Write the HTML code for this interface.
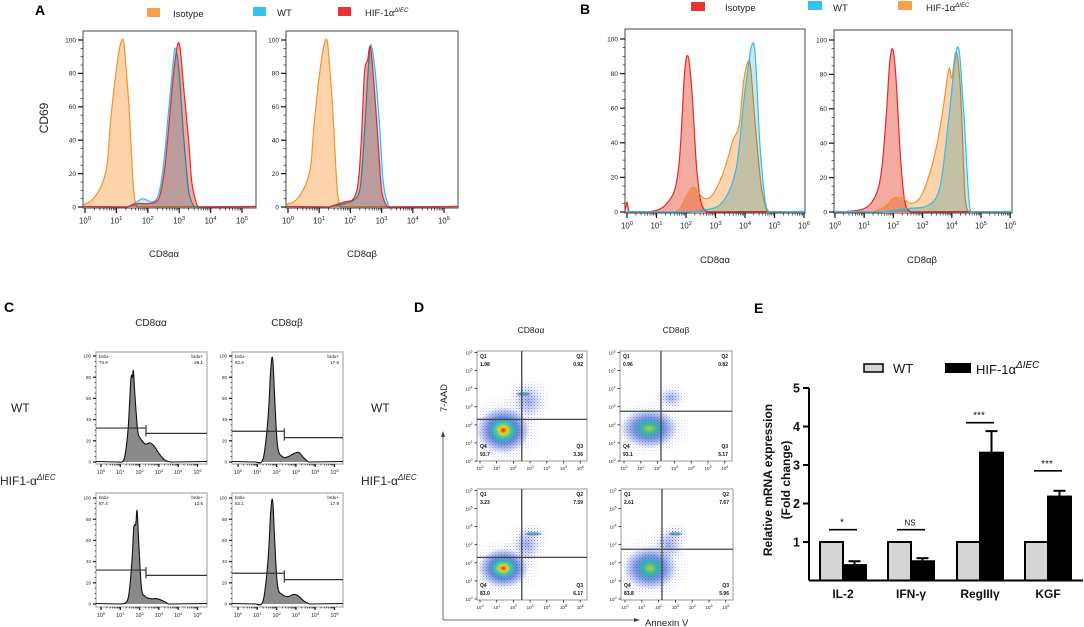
<!DOCTYPE html>
<html><head><meta charset="utf-8">
<style>
html,body{margin:0;padding:0;background:#fff;}
svg{display:block;font-family:"Liberation Sans",Arial,sans-serif;}
</style></head>
<body>
<svg id="fig" width="1084" height="627" viewBox="0 0 1084 627" xmlns="http://www.w3.org/2000/svg">
<defs>
<radialGradient id="gHot"><stop offset="0" stop-color="#e8201a"/><stop offset="0.15" stop-color="#f0d020"/><stop offset="0.32" stop-color="#30c8b0"/><stop offset="0.55" stop-color="#2a5fd0" stop-opacity="0.7"/><stop offset="1" stop-color="#3a48c8" stop-opacity="0"/></radialGradient>
<radialGradient id="gWarm"><stop offset="0" stop-color="#b8d030"/><stop offset="0.25" stop-color="#30b8a8"/><stop offset="0.55" stop-color="#2a58d0" stop-opacity="0.6"/><stop offset="1" stop-color="#3a48c8" stop-opacity="0"/></radialGradient>
<radialGradient id="gCool"><stop offset="0" stop-color="#3a5ad0" stop-opacity="0.45"/><stop offset="1" stop-color="#5a68d0" stop-opacity="0"/></radialGradient>
<pattern id="dots" width="3" height="3" patternUnits="userSpaceOnUse"><rect x="0" y="0" width="1" height="1" fill="#3048c0"/><rect x="1.6" y="1.7" width="0.8" height="0.8" fill="#5060c8"/></pattern>
<radialGradient id="gMask"><stop offset="0" stop-color="#fff" stop-opacity="0.9"/><stop offset="1" stop-color="#fff" stop-opacity="0"/></radialGradient>
</defs>
</svg>
<script>
// ===== Panel A data (x = log10 decade, y = % of max) =====
const A1_iso_x=[0,0.15,0.35,0.55,0.7,0.81,0.95,1.1,1.22,1.3,1.4,1.47,1.55,1.63,1.75];
const A1_iso_y=[2,3,7,14,25,50,75,95,100,85,60,35,10,1,0];
const A1_wt_x=[1.35,1.65,1.85,2.15,2.35,2.5,2.65,2.8,2.88,3.0,3.15,3.3,3.45,3.55];
const A1_wt_y=[0,3,5,3,8,25,55,85,95,80,40,10,1,0];
const A1_ko_x=[1.35,1.65,1.95,2.25,2.4,2.55,2.7,2.85,3.0,3.15,3.3,3.4,3.55,3.65];
const A1_ko_y=[0,2,2,3,8,25,55,85,98,70,40,15,2,0];
const A2_iso_x=[0,0.18,0.38,0.58,0.73,0.84,0.98,1.13,1.25,1.33,1.43,1.5,1.58,1.66,1.78];
const A2_iso_y=[2,3,7,14,25,50,75,95,100,85,60,35,10,1,0];
const A2_wt_x=[1.3,1.8,2.1,2.3,2.4,2.5,2.58,2.66,2.8,2.95,3.05,3.2,3.3];
const A2_wt_y=[0,2,4,10,30,60,85,97,80,45,15,2,0];
const A2_ko_x=[1.3,1.8,2.1,2.25,2.35,2.45,2.55,2.64,2.75,2.9,3.0,3.15,3.25];
const A2_ko_y=[0,3,5,15,40,80,88,96,75,35,10,1,0];
// ===== Panel B data =====
const B1_iso_x=[0,0.05,0.15,1.0,1.4,1.65,1.8,1.95,2.07,2.2,2.35,2.5,2.7];
const B1_iso_y=[6,2,0,1,6,15,35,80,90,70,28,6,0];
const B1_wt_x=[2.0,2.5,3.2,3.7,4.0,4.3,4.5,4.7,4.9];
const B1_wt_y=[0,1,5,25,70,97,40,5,0];
const B1_ko_x=[1.6,1.8,2.1,2.3,2.6,2.9,3.2,3.4,3.6,3.8,3.95,4.1,4.2,4.35,4.55,4.75];
const B1_ko_y=[0,2,12,14,8,10,20,30,42,50,75,87,82,50,15,0];
const B2_iso_x=[0.2,1.0,1.4,1.6,1.75,1.88,1.99,2.1,2.25,2.4,2.6];
const B2_iso_y=[0,2,10,25,55,88,94,75,30,5,0];
const B2_wt_x=[1.5,2.5,3.2,3.6,3.9,4.2,4.4,4.6,4.8];
const B2_wt_y=[0,2,4,15,55,96,60,5,0];
const B2_ko_x=[1.3,1.7,2.0,2.3,2.6,2.9,3.2,3.5,3.7,3.9,4.0,4.15,4.3,4.45,4.6];
const B2_ko_y=[0,3,8,8,5,8,20,40,60,83,78,93,70,10,0];
// ===== Panel C data =====
const C1_x=[0.9,1.2,1.4,1.55,1.63,1.68,1.75,1.9,2.05,2.3,2.55,2.8,3.0,3.3,3.6];
const C1_y=[0,3,30,78,80,86,65,30,22,17,18,14,8,2,0];
const C2_x=[0.9,1.3,1.55,1.7,1.8,1.9,2.05,2.3,2.6,2.9,3.15,3.4,3.65];
const C2_y=[0,3,40,88,97,60,15,5,5,8,9,4,0];
const C3_x=[1.0,1.4,1.6,1.7,1.8,1.87,1.95,2.1,2.3,2.6,2.9,3.2,3.5];
const C3_y=[0,5,40,72,75,88,60,15,7,5,5,3,0];
const C4_x=[0.9,1.3,1.55,1.7,1.8,1.9,2.05,2.3,2.6,2.85,3.1,3.4,3.7];
const C4_y=[0,3,40,88,97,60,17,9,7,9,8,3,0];
const C_gateL=[32,29,32,29]; const C_gateR=[27,23,27,23]; const C_gateX=[2.33,2.4,2.33,2.4];
const C_neg=["74.9","82.4","87.4","82.1"]; const C_pos=["25.1","17.6","12.6","17.9"];
// ===== Panel D data (cluster centers in log units) =====
const D_cx=[[1.4,2.9,2.6],[1.5,2.8],[1.4,2.8,3.2],[1.5,2.6,3.0]];
const D_cy=[[1.7,3.3,3.7],[1.8,3.5],[1.7,3.0,3.6],[1.7,3.0,3.6]];
const D_rx=[[1.6,0.9,0.5],[1.7,0.7],[1.5,0.8,0.6],[1.6,0.8,0.5]];
const D_ry=[[1.3,0.9,0.12],[1.1,0.5],[1.1,0.9,0.12],[1.2,0.8,0.12]];
const D_kind=[["gHot","gCool","gWarm"],["gWarm","gCool"],["gHot","gCool","gWarm"],["gWarm","gCool","gWarm"]];
const D_q=[["1.98","0.92","93.7","3.36"],["0.96","0.82","93.1","5.17"],["3.23","7.59","83.0","6.17"],["2.61","7.67","83.8","5.96"]];
const D_vx=[2.5,2.2,2.5,2.2]; const D_hy=[2.3,2.75,2.3,2.75];
// ===== Panel E data =====
const E_cats=["IL-2","IFN-γ","RegIIIγ","KGF"];
const E_wt=[1,1,1,1];
const E_ko=[0.4,0.5,3.32,2.18];
const E_koErr=[0.1,0.08,0.56,0.15];
const E_sig=["*","NS","***","***"];
const E_sigY=[1.32,1.32,4.1,2.85];
const E_ticks=[1,2,3,4,5];

const NS='http://www.w3.org/2000/svg';
const svg=document.getElementById('fig');
function mk(tag,attrs,name,parent){
  const e=document.createElementNS(NS,tag);
  for(const k in attrs) e.setAttribute(k,attrs[k]);
  
  
  (parent||svg).appendChild(e); return e;
}
function txt(x,y,s,size,name,extra,parent){
  const a=Object.assign({x:x,y:y,'font-size':size,fill:'#111'},extra||{});
  const t=mk('text',a,name,parent); t.textContent=s; return t;
}
function pow10(x,y,n,size,name){
  const t=txt(x,y,'10',size,name,{'text-anchor':'middle',fill:'#222'});
  const s=document.createElementNS(NS,'tspan');
  s.setAttribute('dy',-size*0.45); s.setAttribute('font-size',size*0.75); s.textContent=n;
  t.appendChild(s);
}
function smoothPath(pts){
  let d='';
  for(let i=0;i<pts.length-1;i++){
    const p0=pts[Math.max(0,i-1)],p1=pts[i],p2=pts[i+1],p3=pts[Math.min(pts.length-1,i+2)];
    const c1=[p1[0]+(p2[0]-p0[0])/6,p1[1]+(p2[1]-p0[1])/6], c2=[p2[0]-(p3[0]-p1[0])/6,p2[1]-(p3[1]-p1[1])/6];
    d+=' C'+c1[0].toFixed(1)+','+c1[1].toFixed(1)+' '+c2[0].toFixed(1)+','+c2[1].toFixed(1)+' '+p2[0].toFixed(1)+','+p2[1].toFixed(1);
  }
  return d;
}
// ---------- histogram panels ----------
function histPanel(P){
  const g=mk('g',{},P.name);
  mk('rect',{x:P.box[0],y:P.box[1],width:P.box[2]-P.box[0],height:P.box[3]-P.box[1],fill:'#fff',stroke:P.boxStroke||'#444','stroke-width':P.bw||1},P.name+'-frame',g);
  const xp=v=>P.x0+v*P.dec, yp=v=>P.y0-(P.y0-P.y100)*v/100;
  P.xp=xp; P.yp=yp;
  for(let v=0;v<=100;v+=5){
    const maj=v%20===0;
    mk('line',{x1:P.box[0]-(maj?P.tk:P.tk/2),x2:P.box[0],y1:yp(v),y2:yp(v),stroke:'#222','stroke-width':maj?1.3:0.7},'y-tick',g);
    if(maj) txt(P.box[0]-P.tk-2,yp(v)+P.fs*0.35,String(v),P.fs,'y-tick-label',{'text-anchor':'end',fill:'#222'},g);
  }
  for(let d=0;d<=P.nd;d++){
    mk('line',{x1:xp(d),x2:xp(d),y1:P.box[3],y2:P.box[3]+P.tk,stroke:'#222','stroke-width':1.3},'x-tick',g);
    pow10(xp(d),P.box[3]+P.tk+P.fs*1.6,String(d),P.fs*1.2,'x-tick-label');
    if(d<P.nd) for(let m=2;m<10;m++){const xx=xp(d+Math.log10(m)); if(xx<P.box[2]) mk('line',{x1:xx,x2:xx,y1:P.box[3],y2:P.box[3]+P.tk/2,stroke:'#222','stroke-width':0.7},'x-minor-tick',g);}
  }
  P.curves.forEach(c=>{
    const pts=c.x.map((v,i)=>[xp(v),yp(c.y[i])]);
    const sp=smoothPath(pts);
    const d='M'+pts[0][0]+','+P.y0+' L'+pts[0][0]+','+pts[0][1]+sp+' L'+pts[pts.length-1][0]+','+P.y0+' Z';
    mk('path',{d:d,fill:c.fill,style:'mix-blend-mode:multiply',stroke:'none'},c.name+'-fill',g);
    const l='M'+P.box[0]+','+(P.y0-0.5)+' L'+pts[0][0]+','+pts[0][1]+sp+' L'+P.box[2]+','+(P.y0-0.5);
    mk('path',{d:l,fill:'none',stroke:c.stroke,'stroke-width':P.lw||1.2},c.name+'-line',g);
  });
  return P;
}
const OR={fill:'#fcd3ab',stroke:'#f3922f'}, BL={fill:'#c5e9f7',stroke:'#2dbdf0'}, RD={fill:'#f3aaa0',stroke:'#e8282d'};
histPanel({name:'panel-a-cd8aa',box:[83,31,256,208],x0:85,dec:31.4,nd:5,y0:207,y100:40,tk:5,fs:6.5,curves:[
 {x:A1_iso_x,y:A1_iso_y,...OR,name:'isotype'},{x:A1_wt_x,y:A1_wt_y,...BL,name:'wt'},{x:A1_ko_x,y:A1_ko_y,...RD,name:'hif'}]});
histPanel({name:'panel-a-cd8ab',box:[286,31,458,208],x0:288,dec:31.2,nd:5,y0:207,y100:40,tk:5,fs:6.5,curves:[
 {x:A2_iso_x,y:A2_iso_y,...OR,name:'isotype'},{x:A2_wt_x,y:A2_wt_y,...BL,name:'wt'},{x:A2_ko_x,y:A2_ko_y,...RD,name:'hif'}]});
histPanel({name:'panel-b-cd8aa',box:[625,29,805,213],x0:627,dec:29.5,nd:6,y0:212,y100:39,tk:5,fs:6.5,curves:[
 {x:B1_iso_x,y:B1_iso_y,...RD,name:'isotype'},{x:B1_ko_x,y:B1_ko_y,...OR,name:'hif'},{x:B1_wt_x,y:B1_wt_y,...BL,name:'wt'}]});
histPanel({name:'panel-b-cd8ab',box:[834,30,1012,213],x0:835,dec:29.2,nd:6,y0:212,y100:40,tk:5,fs:6.5,curves:[
 {x:B2_iso_x,y:B2_iso_y,...RD,name:'isotype'},{x:B2_ko_x,y:B2_ko_y,...OR,name:'hif'},{x:B2_wt_x,y:B2_wt_y,...BL,name:'wt'}]});
// ---------- Panel C ----------
const CB=[[96,352,207,464,101,19.3,462,356],[232,352,343,464,238,19.3,462,356],[96,493,207,607,101,19.3,604,498],[232,493,343,607,238,19.3,604,498]];
const CX=[C1_x,C2_x,C3_x,C4_x], CY=[C1_y,C2_y,C3_y,C4_y];
CB.forEach((b,i)=>{
  const P=histPanel({name:'panel-c-hist-'+(i+1),box:[b[0],b[1],b[2],b[3]],x0:b[4],dec:b[5],nd:5,y0:b[6],y100:b[7],tk:3,fs:4.5,lw:1.1,boxStroke:'#aaa',bw:1.2,
    curves:[{x:CX[i],y:CY[i],fill:'#8a8a8a',stroke:'#111',name:'brdu'}]});
  const gx=P.xp(C_gateX[i]);
  mk('line',{x1:b[0],x2:gx,y1:P.yp(C_gateL[i]),y2:P.yp(C_gateL[i]),stroke:'#333','stroke-width':1.2},'gate-brdu-neg');
  mk('line',{x1:gx,x2:b[2],y1:P.yp(C_gateR[i]),y2:P.yp(C_gateR[i]),stroke:'#333','stroke-width':1.2},'gate-brdu-pos');
  mk('line',{x1:gx,x2:gx,y1:P.yp(C_gateL[i])-3,y2:P.yp(C_gateR[i])+3,stroke:'#333','stroke-width':1.2},'gate-divider');
  txt(b[0]+3,b[1]+6,'brdu-',4.5,'brdu-neg-label');
  txt(b[0]+3,b[1]+12,C_neg[i],4.5,'brdu-neg-value');
  txt(b[2]-4,b[1]+6,'brdu+',4.5,'brdu-pos-label',{'text-anchor':'end'});
  txt(b[2]-4,b[1]+12,C_pos[i],4.5,'brdu-pos-value',{'text-anchor':'end'});
});
// ---------- Panel D ----------
const DB=[[477,351,587,461,480,16.7,461,18.1],[620,351,732,461,624,16.8,461,18.1],[477,489,587,600,480,16.7,599,18.1],[621,489,733,600,625,16.8,599,18.1]];
DB.forEach((b,i)=>{
  const g=mk('g',{},'panel-d-scatter-'+(i+1));
  mk('rect',{x:b[0],y:b[1],width:b[2]-b[0],height:b[3]-b[1],fill:'#fff',stroke:'#999','stroke-width':1},'scatter-frame',g);
  const xp=v=>b[4]+v*b[5], yp=v=>b[6]-v*b[7];
  const cid='clipD'+i;
  const cp=mk('clipPath',{id:cid},'clip',g);
  mk('rect',{x:b[0],y:b[1],width:b[2]-b[0],height:b[3]-b[1]},'clip-rect',cp);
  const cg=mk('g',{'clip-path':'url(#'+cid+')'},'clusters',g);
  // speckled halos
  D_cx[i].forEach((cx,k)=>{
    const mid='mD'+i+'_'+k;
    const m=mk('mask',{id:mid},'halo-mask',g);
    mk('ellipse',{cx:xp(cx),cy:yp(D_cy[i][k]),rx:D_rx[i][k]*b[5]*1.5,ry:Math.max(D_ry[i][k],0.4)*b[7]*1.5,fill:'url(#gMask)'},'halo-mask-shape',m);
    mk('rect',{x:b[0],y:b[1],width:b[2]-b[0],height:b[3]-b[1],fill:'url(#dots)',mask:'url(#'+mid+')'},'cell-dots',cg);
  });
  D_cx[i].forEach((cx,k)=>{
    mk('ellipse',{cx:xp(cx),cy:yp(D_cy[i][k]),rx:D_rx[i][k]*b[5],ry:D_ry[i][k]*b[7],fill:'url(#'+D_kind[i][k]+')'},'cell-cluster',cg);
  });
  mk('line',{x1:xp(D_vx[i]),x2:xp(D_vx[i]),y1:b[1],y2:b[3],stroke:'#444','stroke-width':1.3},'quadrant-vline',g);
  mk('line',{x1:b[0],x2:b[2],y1:yp(D_hy[i]),y2:yp(D_hy[i]),stroke:'#444','stroke-width':1.3},'quadrant-hline',g);
  for(let d=0;d<=6;d++){
    mk('line',{x1:xp(d),x2:xp(d),y1:b[3],y2:b[3]+2.5,stroke:'#222','stroke-width':0.8},'x-tick',g);
    pow10(xp(d),b[3]+9,String(d),4.5,'x-tick-label');
    mk('line',{x1:b[0]-2.5,x2:b[0],y1:yp(d),y2:yp(d),stroke:'#222','stroke-width':0.8},'y-tick',g);
    pow10(b[0]-8,yp(d)+2,String(d),4.5,'y-tick-label');
  }
  txt(b[0]+3,b[1]+7,'Q1',5,'q1-label',{'font-weight':'bold'},g); txt(b[0]+3,b[1]+15,D_q[i][0],5,'q1-value',{'font-weight':'bold'},g);
  txt(b[2]-4,b[1]+7,'Q2',5,'q2-label',{'font-weight':'bold','text-anchor':'end'},g); txt(b[2]-4,b[1]+15,D_q[i][1],5,'q2-value',{'font-weight':'bold','text-anchor':'end'},g);
  txt(b[0]+3,b[3]-13,'Q4',5,'q4-label',{'font-weight':'bold'},g); txt(b[0]+3,b[3]-5,D_q[i][2],5,'q4-value',{'font-weight':'bold'},g);
  txt(b[2]-4,b[3]-13,'Q3',5,'q3-label',{'font-weight':'bold','text-anchor':'end'},g); txt(b[2]-4,b[3]-5,D_q[i][3],5,'q3-value',{'font-weight':'bold','text-anchor':'end'},g);
});
// ---------- Panel E ----------
(function(){
  const g=mk('g',{},'panel-e-bar-chart');
  const X0=809, Y0=580.5, U=38.5, XE=1083;
  const yv=v=>Y0-v*U;
  const gx=[820,888,957,1025], bw=23;
  E_cats.forEach((c,i)=>{
    const x=gx[i];
    mk('rect',{x:x,y:yv(E_wt[i]),width:bw,height:Y0-yv(E_wt[i]),fill:'#d4d4d4',stroke:'#000','stroke-width':2},'bar-wt-'+c.toLowerCase(),g);
    const top=yv(E_ko[i]+E_koErr[i]);
    mk('line',{x1:x+bw+bw/2,x2:x+bw+bw/2,y1:top,y2:yv(E_ko[i]),stroke:'#000','stroke-width':2},'error-bar',g);
    mk('line',{x1:x+bw+bw/2-6,x2:x+bw+bw/2+6,y1:top,y2:top,stroke:'#000','stroke-width':2},'error-cap',g);
    mk('rect',{x:x+bw,y:yv(E_ko[i]),width:bw,height:Y0-yv(E_ko[i]),fill:'#000',stroke:'#000','stroke-width':2},'bar-hif-'+c.toLowerCase(),g);
    const sy=yv(E_sigY[i]);
    mk('line',{x1:x+9,x2:x+bw+14,y1:sy,y2:sy,stroke:'#000','stroke-width':1.6},'significance-line',g);
    txt(x+bw-1,sy-4,E_sig[i],E_sig[i]==='NS'?8:10,'significance-label',{'text-anchor':'middle'},g);
    txt(x+bw,598,c,12,'x-category-label',{'text-anchor':'middle','font-weight':'bold'},g);
  });
  mk('line',{x1:X0,x2:X0,y1:yv(5),y2:Y0,stroke:'#000','stroke-width':2},'y-axis',g);
  mk('line',{x1:X0,x2:XE,y1:Y0,y2:Y0,stroke:'#000','stroke-width':2},'x-axis',g);
  E_ticks.forEach(t=>{
    mk('line',{x1:X0-6,x2:X0,y1:yv(t),y2:yv(t),stroke:'#000','stroke-width':2},'y-tick',g);
    txt(X0-9,yv(t)+4.5,String(t),12.5,'y-tick-label',{'text-anchor':'end','font-weight':'bold'},g);
  });
  txt(0,0,'Relative mRNA expression',12,'y-axis-title',{'text-anchor':'middle','font-weight':'bold',transform:'translate(772,480) rotate(-90)'},g);
  txt(0,0,'(Fold change)',12,'y-axis-title-2',{'text-anchor':'middle','font-weight':'bold',transform:'translate(790,480) rotate(-90)'},g);
  mk('rect',{x:864,y:364,width:19,height:8,fill:'#d4d4d4',stroke:'#000','stroke-width':1.5},'legend-wt-swatch',g);
  txt(893,373,'WT',13,'legend-wt-label',{},g);
  mk('rect',{x:945,y:363,width:26,height:10,fill:'#000'},'legend-hif-swatch',g);
  const t=txt(976,374,'HIF-1α',13,'legend-hif-label',{},g);
  const s=document.createElementNS(NS,'tspan'); s.setAttribute('dy','-6'); s.setAttribute('font-size','10'); s.setAttribute('font-style','italic'); s.textContent='ΔIEC'; t.appendChild(s);
})();
</script>
<svg width="1084" height="627" style="position:absolute;left:0;top:0;font-family:'Liberation Sans',Arial,sans-serif">
<text x="35" y="15" font-size="14" font-weight="bold">A</text>
<rect x="147" y="8" width="13" height="9" fill="#f6a04e"/>
<text x="173" y="17" font-size="9.5" fill="#222">Isotype</text>
<rect x="253" y="7" width="13" height="9" fill="#35c0ee"/>
<text x="277" y="16" font-size="9.5" fill="#222">WT</text>
<rect x="338" y="7" width="13" height="9" fill="#ec3136"/>
<text x="365" y="16" font-size="9.5" fill="#222">HIF-1α<tspan dy="-4" font-size="6" font-style="italic">ΔIEC</tspan></text>
<text transform="translate(48,118) rotate(-90)" text-anchor="middle" font-size="12" fill="#222">CD69</text>
<text x="164" y="257" text-anchor="middle" font-size="9.5" fill="#222">CD8αα</text>
<text x="362" y="257" text-anchor="middle" font-size="9.5" fill="#222">CD8αβ</text>
<text x="580" y="14" font-size="14" font-weight="bold">B</text>
<rect x="691" y="2" width="14" height="9" fill="#ec3136"/>
<text x="725" y="11" font-size="9.5" fill="#222">Isotype</text>
<rect x="808" y="1" width="14" height="9" fill="#35c0ee"/>
<text x="833" y="11" font-size="9.5" fill="#222">WT</text>
<rect x="898" y="1" width="14" height="9" fill="#f6a04e"/>
<text x="926" y="11" font-size="9.5" fill="#222">HIF-1α<tspan dy="-4" font-size="6" font-style="italic">ΔIEC</tspan></text>
<text x="715" y="263" text-anchor="middle" font-size="9.5" fill="#222">CD8αα</text>
<text x="922" y="263" text-anchor="middle" font-size="9.5" fill="#222">CD8αβ</text>
<text x="4" y="312" font-size="14" font-weight="bold">C</text>
<text x="151" y="326" text-anchor="middle" font-size="10" fill="#222">CD8αα</text>
<text x="287" y="326" text-anchor="middle" font-size="10" fill="#222">CD8αβ</text>
<text x="11" y="412" font-size="12" fill="#222">WT</text>
<text x="0" y="485" font-size="12" fill="#222">HIF1-α<tspan dy="-5" font-size="8" font-style="italic">ΔIEC</tspan></text>
<text x="371" y="412" font-size="12" fill="#222">WT</text>
<text x="361" y="485" font-size="12" fill="#222">HIF1-α<tspan dy="-5" font-size="8" font-style="italic">ΔIEC</tspan></text>
<text x="414" y="312" font-size="14" font-weight="bold">D</text>
<text x="531" y="333" text-anchor="middle" font-size="8.5" fill="#222">CD8αα</text>
<text x="676" y="333" text-anchor="middle" font-size="8.5" fill="#222">CD8αβ</text>
<text transform="translate(447,398) rotate(-90)" text-anchor="middle" font-size="9.5" fill="#222">7-AAD</text>
<line x1="443" y1="620" x2="443" y2="436" stroke="#444" stroke-width="0.8"/>
<polygon points="441,437 445,437 443,431" fill="#444"/>
<line x1="443" y1="620" x2="634" y2="620" stroke="#444" stroke-width="0.8"/>
<polygon points="634,618 634,622 640,620" fill="#444"/>
<text x="645" y="626" font-size="9.5" fill="#222">Annexin V</text>
<text x="754" y="313" font-size="14" font-weight="bold">E</text>
</svg>
</body></html>
